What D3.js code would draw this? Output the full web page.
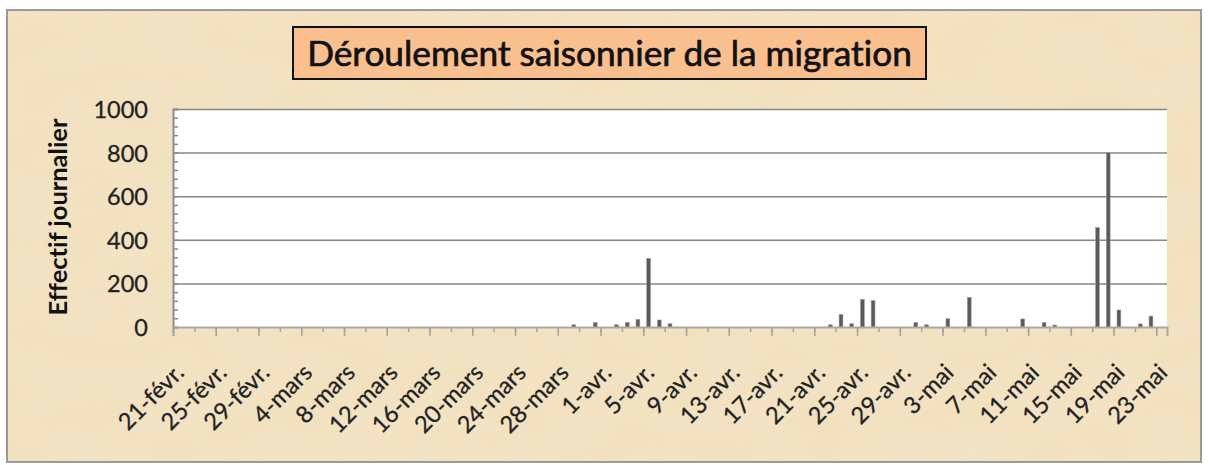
<!DOCTYPE html>
<html>
<head>
<meta charset="utf-8">
<script src="https://cdn.jsdelivr.net/npm/d3@7"></script>
<style>
  html,body{margin:0;padding:0;background:#fff;}
  svg{display:block;}
  text{font-variant-ligatures:none;font-feature-settings:"liga" 0,"clig" 0;}
</style>
</head>
<body>
<script>
// ---------- DATA ----------
const startDay = new Date(2008, 1, 21);   // 21-févr.
const endDay   = new Date(2008, 4, 24);   // day after 23-mai
const valuesFeb = [0,0,0,0,0,0,0,0,0];                       // 21..29 févr.
const valuesMar = [0,0,0,0,0,0,0,0,0,0, 0,0,0,0,0,0,0,0,0,0, 0,0,0,0,0,0,0,0,10,0, 20]; // 1..31 mars
const valuesApr = [0,10,20,35,315,32,15,0,0,0, 0,0,0,0,0,0,0,0,0,0, 0,10,58,15,127,121,0,0,0,20]; // 1..30 avr.
const valuesMay = [10,0,38,0,136,0,0,0,0,37, 0,20,9,0,0,0,456,800,78,0, 14,50,0]; // 1..23 mai
const xTickLabels = ["21-févr.","25-févr.","29-févr.","4-mars","8-mars","12-mars","16-mars","20-mars",
  "24-mars","28-mars","1-avr.","5-avr.","9-avr.","13-avr.","17-avr.","21-avr.","25-avr.","29-avr.",
  "3-mai","7-mai","11-mai","15-mai","19-mai","23-mai"];
const yTickValues = [0,200,400,600,800,1000];
const yTickLabels = ["0","200","400","600","800","1000"];
const titleText = "Déroulement saisonnier de la migration";
const yAxisTitle = "Effectif journalier";

// ---------- BUILD ----------
const days = d3.timeDay.range(startDay, endDay);
const values = valuesFeb.concat(valuesMar, valuesApr, valuesMay);
const data = days.map((d, i) => ({date: d, value: values[i]}));
const majorDays = days.filter((d, i) => i % 4 === 0);
const minorDays = days.filter((d, i) => i % 2 === 0);

const W = 1209, H = 465;
const plot = {left: 173, right: 1167, top: 109, bottom: 327};
const FONT = "Lato, 'Open Sans', sans-serif";

const svg = d3.select("body").append("svg").attr("width", W).attr("height", H);

const defs = svg.append("defs");
const filt = defs.append("filter").attr("id", "paper").attr("x", 0).attr("y", 0).attr("width", "100%").attr("height", "100%");
filt.append("feTurbulence").attr("type", "fractalNoise").attr("baseFrequency", "0.015 0.03").attr("numOctaves", 4).attr("seed", 3).attr("result", "n");
filt.append("feColorMatrix").attr("in", "n").attr("type", "matrix")
  .attr("values", "0 0 0 0 0.90  0 0 0 0 0.80  0 0 0 0 0.62  0 0 0 -1.2 0.85");

// background frame
svg.append("rect").attr("x", 7).attr("y", 10).attr("width", 1194).attr("height", 452)
  .attr("fill", "#F2E1BF").attr("stroke", "#9a9a9a").attr("stroke-width", 2);
svg.append("rect").attr("x", 8).attr("y", 11).attr("width", 1192).attr("height", 450)
  .attr("filter", "url(#paper)").attr("opacity", 0.6);

// plot area
svg.append("rect").attr("x", plot.left).attr("y", plot.top)
  .attr("width", plot.right - plot.left).attr("height", plot.bottom - plot.top).attr("fill", "#fff");

const x = d3.scaleTime().domain([startDay, endDay]).range([plot.left, plot.right]);
const y = d3.scaleLinear().domain([0, 1000]).range([plot.bottom, plot.top]);

// gridlines
const grid = svg.append("g").attr("transform", `translate(${plot.left},0)`)
  .call(d3.axisLeft(y).tickValues(yTickValues.slice(1)).tickSize(-(plot.right - plot.left)).tickFormat(""));
grid.select(".domain").remove();
grid.selectAll("line").attr("stroke", "#868686").attr("stroke-width", 1.5);

// bars
const step = x(days[1]) - x(days[0]);
const bw = 3.8;
svg.append("g").selectAll("rect").data(data.filter(d => d.value > 0)).join("rect")
  .attr("x", d => x(d.date) + (step - bw) / 2)
  .attr("y", d => y(d.value))
  .attr("width", bw)
  .attr("height", d => y(0) - y(d.value))
  .attr("fill", "#5a5a5a")
  .attr("stroke", "#9a9a9a").attr("stroke-width", 0.6);

// y axis minor ticks (inside)
const yMinor = svg.append("g").attr("transform", `translate(${plot.left},0)`)
  .call(d3.axisLeft(y).tickValues(d3.range(0, 1001, 40)).tickSize(-5).tickFormat(""));
yMinor.select(".domain").attr("stroke", "#8c8c8c").attr("stroke-width", 2);
yMinor.selectAll("line").attr("stroke", "#8c8c8c").attr("stroke-width", 1.5);

// y tick labels
const yLab = svg.append("g").attr("transform", `translate(148,0)`)
  .call(d3.axisLeft(y).tickValues(yTickValues).tickSize(0).tickPadding(0)
    .tickFormat((d, i) => yTickLabels[i]));
yLab.select(".domain").remove();
yLab.selectAll("text").attr("font-family", FONT).attr("font-size", 23.5).attr("fill", "#222")
  .attr("stroke", "#222").attr("stroke-width", 0.3)
  .attr("dy", "0.36em");

// x axis minor ticks
const xMinor = svg.append("g").attr("transform", `translate(0,${plot.bottom})`)
  .call(d3.axisBottom(x).tickValues(minorDays).tickSize(5).tickFormat(""));
xMinor.select(".domain").remove();
xMinor.selectAll("line").attr("stroke", "#a3a3a3").attr("stroke-width", 1.5);

// x axis major ticks + labels
const xMajor = svg.append("g").attr("transform", `translate(0,${plot.bottom})`)
  .call(d3.axisBottom(x).tickValues(majorDays).tickSize(9)
    .tickFormat((d, i) => xTickLabels[i]));
xMajor.select(".domain").attr("stroke", "#a8a8a8").attr("stroke-width", 2);
xMajor.selectAll("line").attr("stroke", "#a3a3a3").attr("stroke-width", 1.5);
xMajor.selectAll("text")
  .attr("font-family", FONT).attr("font-size", 23.5).attr("fill", "#222")
  .attr("stroke", "#222").attr("stroke-width", 0.3)
  .attr("text-anchor", "end").attr("x", 0).attr("y", 0).attr("dy", 0)
  .attr("transform", "translate(12,47) rotate(-45)");

// y axis title
const yt = svg.append("text").text(yAxisTitle)
  .attr("font-family", FONT).attr("font-weight", 700).attr("font-size", 24).attr("fill", "#111")
  .attr("text-anchor", "middle")
  .attr("transform", "translate(67,217) rotate(-90)");
{
  const L = yt.node().getComputedTextLength();
  yt.attr("font-size", 24 * 197 / L);
}

// title box
svg.append("rect").attr("x", 293).attr("y", 27).attr("width", 633).attr("height", 52)
  .attr("fill", "#FABF8F").attr("stroke", "#111").attr("stroke-width", 2);
const tt = svg.append("text").text(titleText)
  .attr("x", 609.5).attr("y", 66).attr("text-anchor", "middle")
  .attr("font-family", FONT).attr("font-size", 30).attr("fill", "#111")
  .attr("stroke", "#111").attr("stroke-width", 0.7);
{
  const L = tt.node().getComputedTextLength();
  tt.attr("font-size", 30 * 605 / L);
}
</script>
</body>
</html>
